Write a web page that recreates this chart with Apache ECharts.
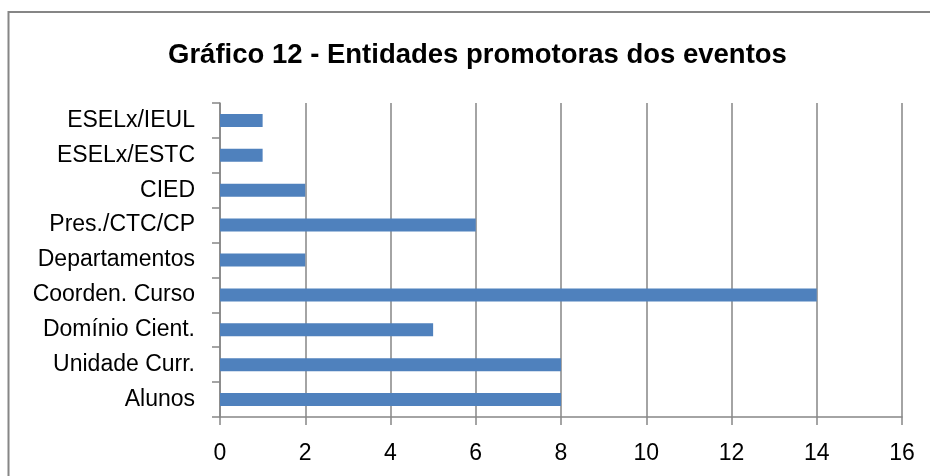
<!DOCTYPE html>
<html lang='pt'>
  <head>
    <meta charset='utf-8'>
    <title>Gráfico 12</title>
    <style>
      html, body { margin: 0; padding: 0; background: #fff; }
    </style>
  </head>
  <body>
    <div id="main" style="width:930px;height:476px;"></div>

    <script src="https://cdn.jsdelivr.net/npm/echarts@6/dist/echarts.min.js"></script>
    <script>
      // dados (de baixo para cima)
      var categorias = ['Alunos', 'Unidade Curr.', 'Domínio Cient.', 'Coorden. Curso',
        'Departamentos', 'Pres./CTC/CP', 'CIED', 'ESELx/ESTC', 'ESELx/IEUL'];
      var valores = [8, 8, 5, 14, 2, 6, 2, 1, 1];
      var ticksX = [0, 2, 4, 6, 8, 10, 12, 14, 16];

      var fonte = '"Liberation Sans", Arial, sans-serif';
      var cinza = '#868686';

      var myChart = echarts.init(document.getElementById('main'));

      var option = {
        backgroundColor: '#fff',
        animation: false,
        title: {
          text: 'Gráfico 12 - Entidades promotoras dos eventos',
          left: 163,
          top: 36,
          textStyle: {
            fontFamily: fonte,
            fontWeight: 'bold',
            fontSize: 27.5,
            color: '#000'
          }
        },
        graphic: [{
          type: 'rect',
          shape: { x: 8.5, y: 12, width: 940, height: 480 },
          style: { fill: 'none', stroke: cinza, lineWidth: 2 },
          silent: true
        }],
        grid: {
          left: 220,
          right: 28,
          top: 103,
          bottom: 59,
          containLabel: false
        },
        xAxis: {
          type: 'value',
          min: ticksX[0],
          max: ticksX[ticksX.length - 1],
          interval: 2,
          axisLine: { show: true, lineStyle: { color: cinza, width: 1.5 } },
          axisTick: { show: true, length: 8, lineStyle: { color: cinza, width: 1.5 } },
          splitLine: { show: true, lineStyle: { color: cinza, width: 1.5 } },
          axisLabel: {
            margin: 25,
            fontFamily: fonte,
            fontSize: 23,
            color: '#000'
          }
        },
        yAxis: {
          type: 'category',
          data: categorias,
          axisLine: { show: true, lineStyle: { color: cinza, width: 1.5 } },
          axisTick: { show: true, length: 8, alignWithLabel: false, lineStyle: { color: cinza, width: 1.5 } },
          axisLabel: {
            margin: 25,
            fontFamily: fonte,
            fontSize: 23,
            color: '#000'
          }
        },
        series: [{
          type: 'bar',
          data: valores,
          barWidth: 13,
          itemStyle: { color: '#4F81BD' }
        }]
      };

      myChart.setOption(option);
    </script>
  </body>
</html>
